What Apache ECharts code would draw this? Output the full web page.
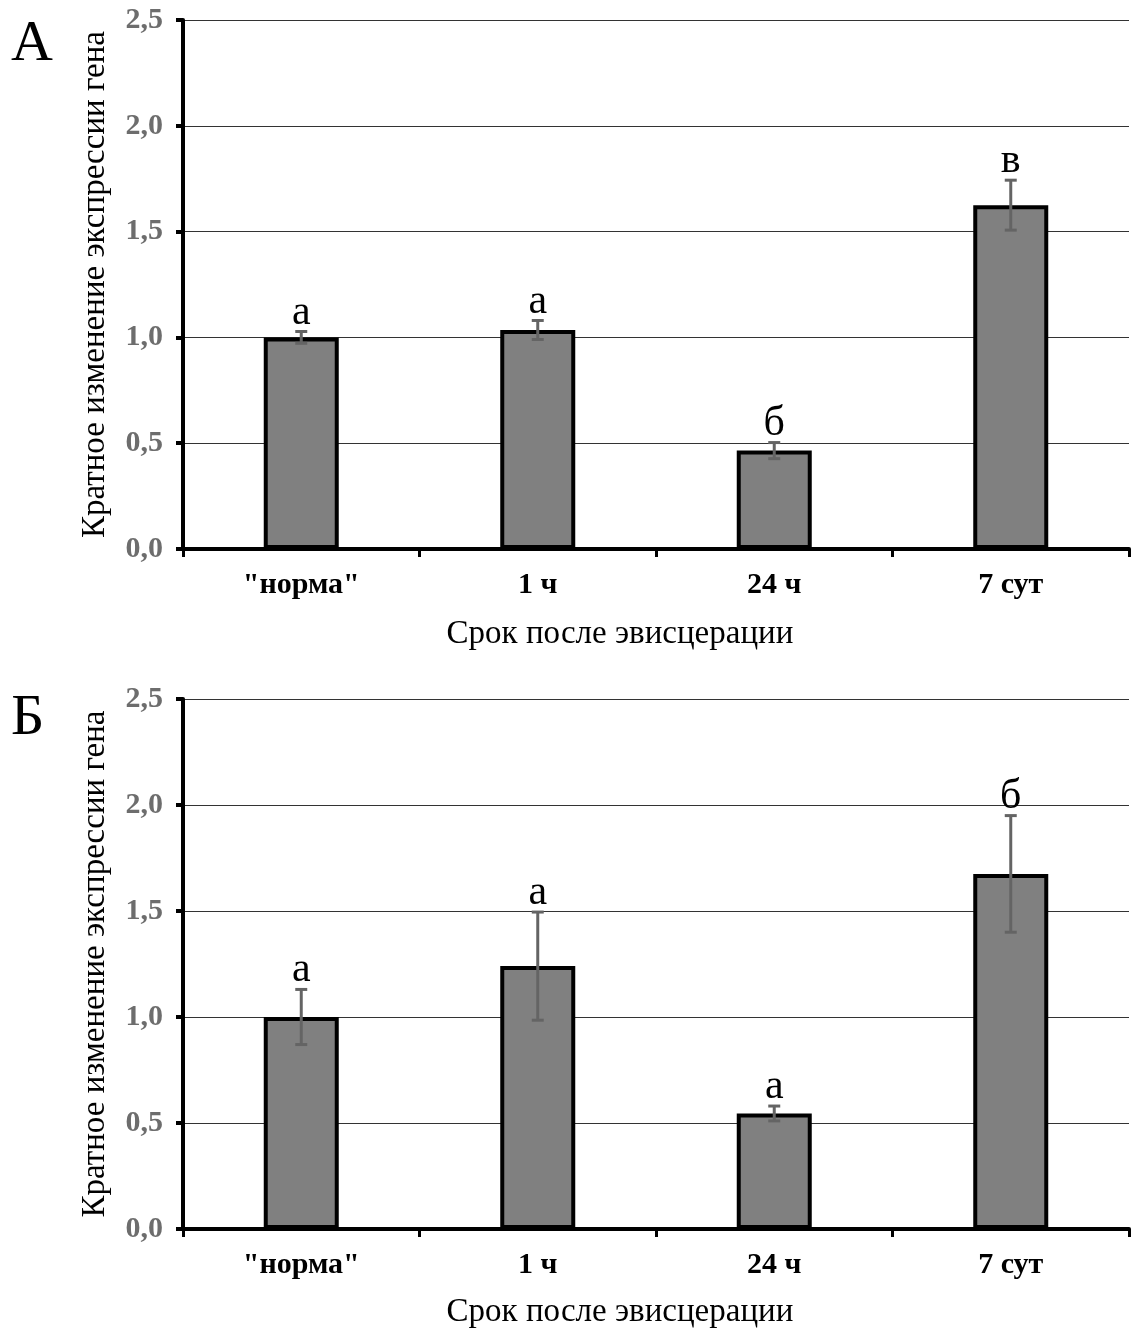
<!DOCTYPE html>
<html>
<head>
<meta charset="utf-8">
<script src="https://cdn.jsdelivr.net/npm/echarts@6/dist/echarts.min.js"></script>
<style>
html,body{margin:0;padding:0;background:#fff}
#chart{width:1133px;height:1331px}
</style>
</head>
<body>
<div id="chart"></div>
<script>
// категории и данные
var categories = ['"норма"', '1 ч', '24 ч', '7 сут'];
var valuesA = [1.0, 1.035, 0.465, 1.625];
var errorsA = [0.028, 0.045, 0.038, 0.118];
var lettersA = ['а', 'а', 'б', 'в'];
var valuesB = [1.0, 1.24, 0.545, 1.675];
var errorsB = [0.13, 0.255, 0.035, 0.275];
var lettersB = ['а', 'а', 'а', 'б'];
var panelNames = ['А', 'Б'];
var xTitle = 'Срок после эвисцерации';
var yTitle = 'Кратное изменение экспрессии гена';

var serif = '"Liberation Serif", "DejaVu Serif", serif';

function errData(vals, errs){
	var out = [];
	for (var i = 0; i < vals.length; i++) out.push([i, vals[i], errs[i]]);
	return out;
}

function errRender(letters){
	return function(params, api){
		var i = api.value(0);
		var v = api.value(1), e = api.value(2);
		var top = api.coord([i, v + e]);
		var bot = api.coord([i, v - e]);
		var hw = 6;
		var st = {stroke: '#646464', lineWidth: 3};
		return {
			type: 'group',
			children: [
				{type: 'line', shape: {x1: top[0], y1: top[1], x2: bot[0], y2: bot[1]}, style: st},
				{type: 'line', shape: {x1: top[0] - hw, y1: top[1], x2: top[0] + hw, y2: top[1]}, style: st},
				{type: 'line', shape: {x1: bot[0] - hw, y1: bot[1], x2: bot[0] + hw, y2: bot[1]}, style: st},
				{type: 'text', x: top[0], y: top[1] + 2,
					style: {text: letters[i], fontSize: 42, fontFamily: serif, fill: '#000',
						align: 'center', verticalAlign: 'bottom'}}
			]
		};
	};
}

function xAx(gi){
	return {
		type: 'category', gridIndex: gi, data: categories,
		boundaryGap: true,
		axisLine: {lineStyle: {color: '#000', width: 4}},
		axisTick: {show: true, length: 8, lineStyle: {color: '#000', width: 3}},
		axisLabel: {fontFamily: serif, fontSize: 30, fontWeight: 'bold', color: '#000', margin: 21},
		splitLine: {show: false}
	};
}
function yAx(gi){
	return {
		type: 'value', gridIndex: gi, min: 0, max: 2.5, interval: 0.5,
		name: yTitle, nameLocation: 'middle', nameGap: 71, nameRotate: 90,
		nameTextStyle: {fontFamily: serif, fontSize: 33, color: '#000'},
		axisLine: {show: true, lineStyle: {color: '#000', width: 4}},
		axisTick: {show: true, length: 7, lineStyle: {color: '#000', width: 4}},
		axisLabel: {fontFamily: serif, fontSize: 30, fontWeight: 'bold', color: '#6d6d6d', margin: 20,
			formatter: function(v){ return v.toFixed(1).replace('.', ','); }},
		splitLine: {show: true, lineStyle: {color: '#333', width: 1}}
	};
}
function barSer(gi, vals){
	return {
		type: 'bar', xAxisIndex: gi, yAxisIndex: gi, data: vals, barWidth: 75,
		itemStyle: {color: '#808080', borderColor: '#000', borderWidth: 4},
		z: 2
	};
}
function errSer(gi, vals, errs, letters){
	return {
		type: 'custom', xAxisIndex: gi, yAxisIndex: gi,
		data: errData(vals, errs),
		encode: {x: 0, y: 1},
		renderItem: errRender(letters),
		z: 5
	};
}

var option = {
	animation: false,
	backgroundColor: '#fff',
	grid: [
		{left: 183, right: 4, top: 20, height: 529},
		{left: 183, right: 4, top: 699, height: 530}
	],
	xAxis: [xAx(0), xAx(1)],
	yAxis: [yAx(0), yAx(1)],
	graphic: [
		{type: 'text', left: 11, top: 16, style: {text: panelNames[0], fontSize: 58, fontFamily: serif, fill: '#000'}},
		{type: 'text', left: 11, top: 690, style: {text: panelNames[1], fontSize: 58, fontFamily: serif, fill: '#000'}},
		{type: 'text', x: 620, y: 634, style: {text: xTitle, fontSize: 33, fontFamily: serif, fill: '#000', align: 'center', verticalAlign: 'middle'}},
		{type: 'text', x: 620, y: 1312, style: {text: xTitle, fontSize: 33, fontFamily: serif, fill: '#000', align: 'center', verticalAlign: 'middle'}}
	],
	series: [
		barSer(0, valuesA), errSer(0, valuesA, errorsA, lettersA),
		barSer(1, valuesB), errSer(1, valuesB, errorsB, lettersB)
	]
};

var chart = echarts.init(document.getElementById('chart'));
chart.setOption(option);
</script>
</body>
</html>
